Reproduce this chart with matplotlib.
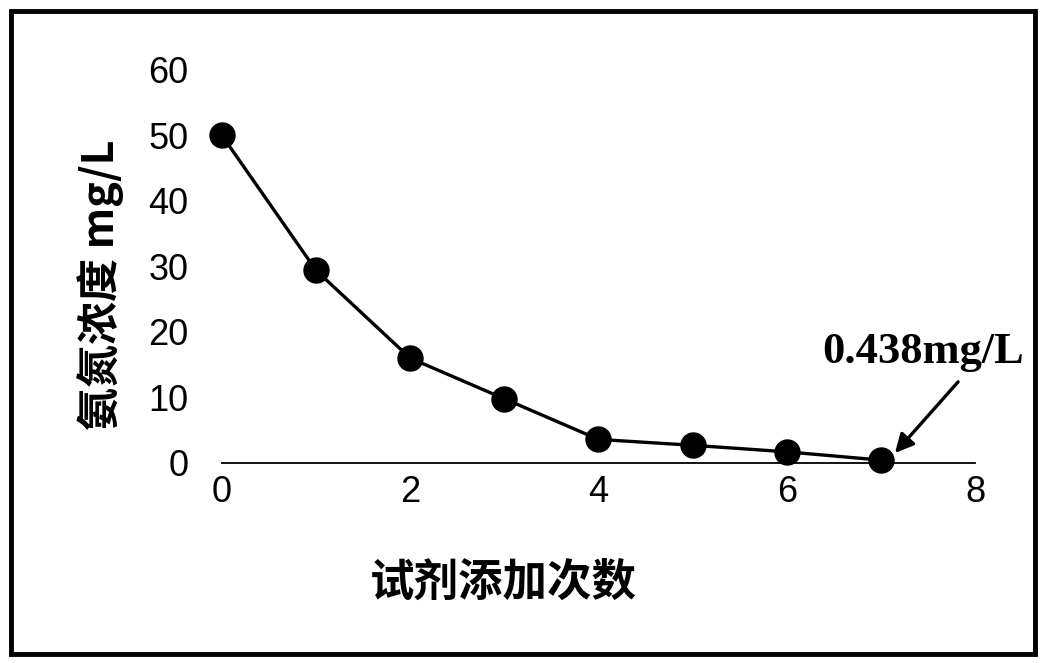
import matplotlib
matplotlib.use("Agg")
import matplotlib.pyplot as plt
from matplotlib.patches import Rectangle

x_vals = [0, 1, 2, 3, 4, 5, 6, 7]
y_vals = [50, 29.4, 16.0, 9.8, 3.6, 2.7, 1.7, 0.438]
x_ticks = [0, 2, 4, 6, 8]
y_ticks = [0, 10, 20, 30, 40, 50, 60]
x_label = "试剂添加次数"
y_label = "氨氮浓度 mg/L"
note_text = "0.438mg/L"

plt.rcParams['font.family'] = ['Liberation Sans', 'Noto Sans CJK SC', 'DejaVu Sans']

fig = plt.figure(figsize=(10.43, 6.63), dpi=100)
ax = fig.add_axes([0.2128, 0.3017, 0.722, 0.5928])

ax.plot(x_vals, y_vals, color='black', linewidth=2.4, marker='o',
        markersize=18, markerfacecolor='black', markeredgecolor='black', clip_on=False, zorder=3)

ax.set_xlim(0, 8)
ax.set_ylim(0, 60)
ax.set_xticks(x_ticks)
ax.set_yticks(y_ticks)
for s in ['top', 'right', 'left']:
    ax.spines[s].set_visible(False)
ax.spines['bottom'].set_linewidth(1.3)
ax.tick_params(axis='x', length=0, pad=9, labelsize=26)
ax.tick_params(axis='y', length=0, pad=24, labelsize=26)

ax.set_xlabel(x_label, fontsize=32, fontweight='bold', family=['Noto Sans CJK SC', 'DejaVu Sans'])
ax.xaxis.label.set_verticalalignment('center')
ax.xaxis.set_label_coords((503 - 222) / 753, (463 - 583) / 393)
ax.set_ylabel(y_label, fontsize=31, fontweight='bold', family=['Noto Sans CJK SC', 'DejaVu Sans'])
ax.yaxis.label.set_verticalalignment('center')
ax.yaxis.set_label_coords((101 - 222) / 753, (463 - 285) / 393)

ax.annotate("", xy=(7.13, 1.2), xytext=(7.84, 12.7),
            arrowprops=dict(arrowstyle='-|>', color='black', lw=2.4, mutation_scale=28),
            annotation_clip=False)
ax.text(6.38, 17.0, note_text, fontsize=32, fontweight='bold', family='Liberation Serif',
        ha='left', va='center', clip_on=False)

fig.add_artist(Rectangle((11/1043, 1 - 654/663), (1035-11)/1043, (654-11)/663,
                         transform=fig.transFigure, fill=False, edgecolor='black', linewidth=3.5))

fig.savefig("out.png", dpi=100)
